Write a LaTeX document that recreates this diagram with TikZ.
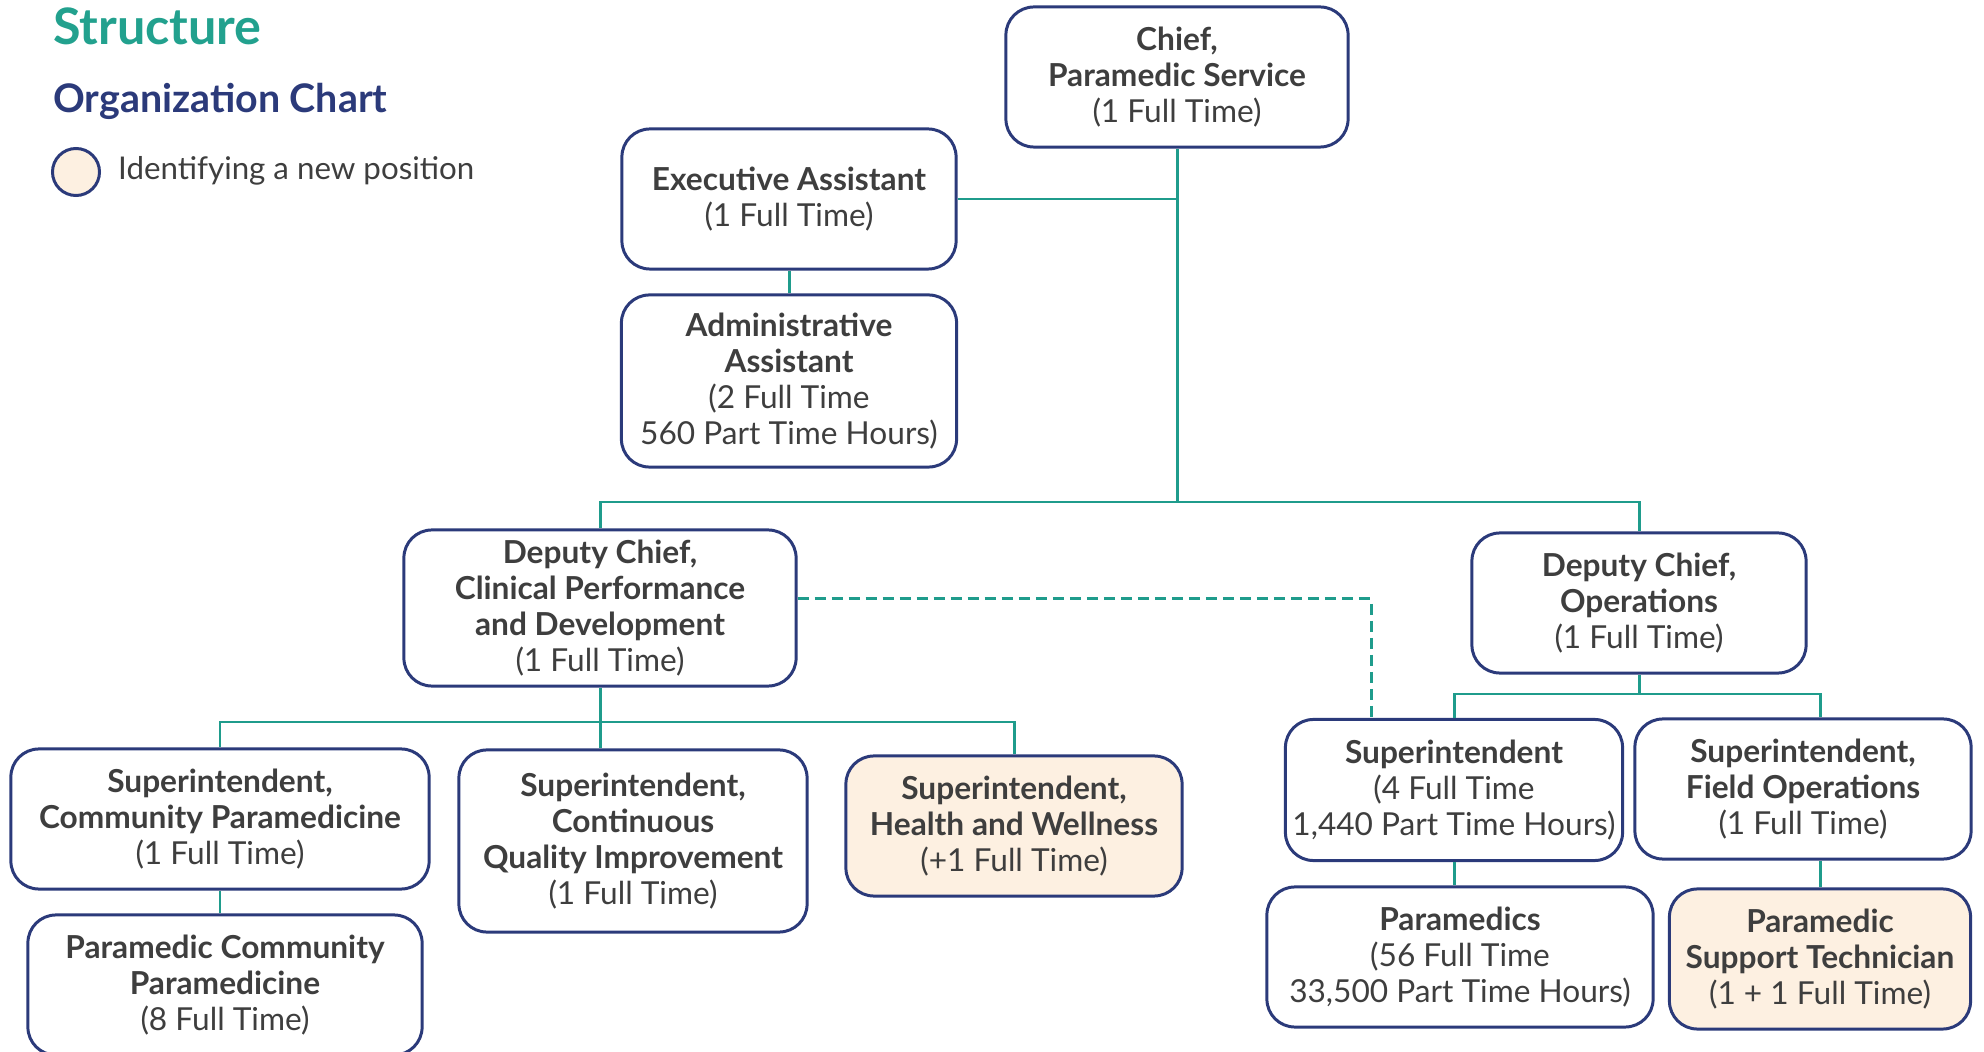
\documentclass[tikz,border=0pt]{standalone}
\usepackage{fontspec}
\setmainfont{Lato}
\definecolor{navy}{HTML}{2B3A7A}
\definecolor{lineteal}{HTML}{1F9C8C}
\definecolor{titleteal}{HTML}{22A18E}
\definecolor{cream}{HTML}{FDF0E1}
\definecolor{ink}{HTML}{3E3E3E}

\begin{document}
\begin{tikzpicture}[x=0.01cm, y=-0.01cm, line width=0.85pt,
    main/.style = {draw=navy, rounded corners=2.8mm, fill=white, align=center, inner sep=2pt, text=ink, font=\fontsize{9}{10.2}\selectfont},
    new/.style = {main, fill=cream},
    link/.style = {draw=lineteal},
    dashline/.style = {dash pattern=on 1.1mm off 0.6mm}]
    \useasboundingbox (0,0) rectangle (1984,1052);

    \node[anchor=base west, text=titleteal, font=\fontsize{14.3}{16}\selectfont\bfseries] (ttl) at (40,45) {Structure};
    \node[anchor=base west, text=navy, font=\fontsize{11.2}{13}\selectfont\bfseries] (sub) at (40,113) {Organization Chart};
    \node[circle, draw=navy, fill=cream, minimum size=0.47cm, inner sep=0pt] (key) at (76,172) {};
    \node[anchor=base west, text=ink, font=\fontsize{8.9}{10}\selectfont] (keytxt) at (105,180) {Identifying a new position};

    \node[main, minimum width=3.42cm, minimum height=1.40cm] (chief) at (1177,77) {\textbf{Chief,}\\\textbf{Paramedic Service}\\(1 Full Time)};
    \node[main, minimum width=3.34cm, minimum height=1.40cm] (ea) at (789,199) {\textbf{Executive Assistant}\\(1 Full Time)};
    \node[main, minimum width=3.35cm, minimum height=1.72cm] (aa) at (789,381) {\textbf{Administrative}\\\textbf{Assistant}\\(2 Full Time\\560 Part Time Hours)};
    \node[main, minimum width=3.92cm, minimum height=1.56cm] (dcc) at (600,608) {\textbf{Deputy Chief,}\\\textbf{Clinical Performance}\\\textbf{and Development}\\(1 Full Time)};
    \node[main, minimum width=3.34cm, minimum height=1.40cm] (dco) at (1639,603) {\textbf{Deputy Chief,}\\\textbf{Operations}\\(1 Full Time)};
    \node[main, minimum width=4.18cm, minimum height=1.40cm] (scp) at (220,819) {\textbf{Superintendent,}\\\textbf{Community Paramedicine}\\(1 Full Time)};
    \node[main, minimum width=3.94cm, minimum height=1.40cm] (pcp) at (225,985) {\textbf{Paramedic Community}\\\textbf{Paramedicine}\\(8 Full Time)};
    \node[main, minimum width=3.48cm, minimum height=1.82cm] (cqi) at (633,841) {\textbf{Superintendent,}\\\textbf{Continuous}\\\textbf{Quality Improvement}\\(1 Full Time)};
    \node[new, minimum width=3.36cm, minimum height=1.40cm] (hw) at (1014,826) {\textbf{Superintendent,}\\\textbf{Health and Wellness}\\(+1 Full Time)};
    \node[main, minimum width=3.34cm, minimum height=1.41cm] (sup) at (1454,790) {\textbf{Superintendent}\\(4 Full Time\\1,440 Part Time Hours)};
    \node[main, minimum width=3.36cm, minimum height=1.40cm] (sfo) at (1803,789) {\textbf{Superintendent,}\\\textbf{Field Operations}\\(1 Full Time)};
    \node[main, minimum width=3.86cm, minimum height=1.40cm] (med) at (1460,957) {\textbf{Paramedics}\\(56 Full Time\\33,500 Part Time Hours)};
    \node[new, minimum width=3.01cm, minimum height=1.40cm] (pst) at (1820,959) {\textbf{Paramedic}\\\textbf{Support Technician}\\(1 + 1 Full Time)};

    \coordinate (b1) at (1177,502);
    \coordinate (b2) at (600,722);
    \coordinate (b3) at (1639,694);
    \coordinate (d1) at (1371,719);

    \draw[link] (chief) -- (b1);
    \draw[link] (ea.east) -- (ea.east -| b1);
    \draw[link] (ea) -- (aa);
    \draw[link] (dcc.north) |- (b1) -| (dco.north);
    \draw[link] (dcc) -- (b2);
    \draw[link] (scp.north) |- (b2) -| (hw.north);
    \draw[link] (b2) -- (b2 |- cqi.north);
    \draw[link] (scp.south) -- (scp.south |- pcp.north);
    \draw[link] (dco) -- (b3);
    \draw[link] (sup.north) |- (b3) -| (pst.north |- sfo.north);
    \draw[link] (sup.south) -- (sup.south |- med.north);
    \draw[link] (sfo.south -| pst.north) -- (pst.north);
    \draw[link, dashline] ([yshift=0.9mm]dcc.east) -| (d1);

\end{tikzpicture}
\end{document}
